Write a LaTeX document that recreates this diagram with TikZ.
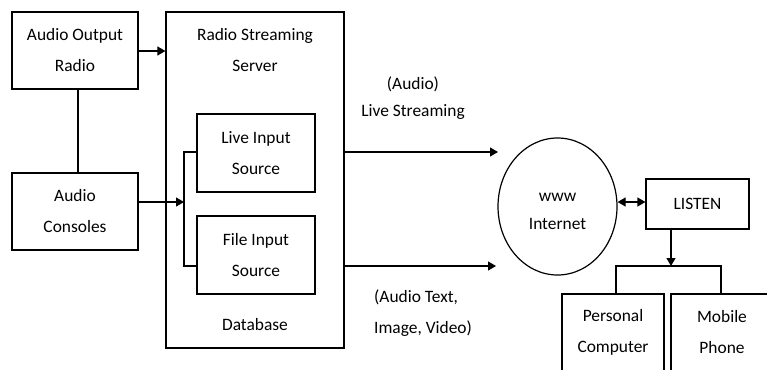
\documentclass[tikz,border=0pt]{standalone}
\usepackage{fontspec}
\setmainfont{Carlito}
\usetikzlibrary{arrows.meta,shapes.geometric}
\begin{document}
\begin{tikzpicture}[x=1pt,y=-1pt,
  every node/.style={font=\fontsize{17.4}{31}\selectfont, align=center},
  line/.style={line width=1.2pt},
  arr/.style={line width=1.2pt,-{Triangle[length=8pt,width=9pt]}},
  darr/.style={line width=1.2pt,{Triangle[length=8pt,width=9pt]}-{Triangle[length=8pt,width=9pt]}},
  boxn/.style={draw, line width=1.2pt, minimum width=126pt, minimum height=77pt, inner sep=0pt},
  inbox/.style={draw, line width=1.2pt, minimum width=118pt, minimum height=78pt, inner sep=0pt},
  devbox/.style={draw, line width=1.2pt, minimum width=102pt, minimum height=77pt, inner sep=0pt},
  txt/.style={inner sep=0pt}]
\useasboundingbox (0,0) rectangle (767,369);
% left boxes
\node[boxn] (aor) at (75,50.5) {Audio Output\\Radio};
\node[boxn] (cons) at (75,211.5) {Audio\\Consoles};
% server
\node[draw, line width=1.2pt, minimum width=178pt, minimum height=336pt, inner sep=0pt] (server) at (255,180) {};
\node[txt] (servt) at (255,50.5) {Radio Streaming\\Server};
\node[txt] (db) at (255,325) {Database};
\node[inbox] (live) at (256,153) {Live Input\\Source};
\node[inbox] (file) at (256,255) {File Input\\Source};
% bracket
\coordinate (btop) at (184,152);
\coordinate (bbot) at (184,266);
\coordinate (bmid) at (184,202);
\draw[line] (live.west |- btop) -- (btop) -- (bbot) -- (file.west |- bbot);
\draw[arr] (cons.east |- bmid) -- (bmid);
\draw[arr] (aor.east |- 0,51) -- (server.west |- 0,51);
\draw[line] (78,89) -- (78,173);
% internet
\node[draw, ellipse, line width=1.2pt, minimum width=119pt, minimum height=137pt, inner sep=0pt] (inet) at (557.5,206.5) {};
\node[txt, font=\fontsize{17.4}{28}\selectfont] (inett) at (557.5,211) {www\\Internet};
\coordinate (t1) at (498,152);
\coordinate (t2) at (496,266);
\draw[arr] (server.east |- t1) -- (t1);
\draw[arr] (server.east |- t2) -- (t2);
\node[txt, font=\fontsize{17.4}{27}\selectfont] (lst) at (413,98.5) {(Audio)\\Live Streaming};
\node[txt, align=left, anchor=west] (att) at (374,313.5) {(Audio Text,\\Image, Video)};
% listen
\node[draw, line width=1.2pt, minimum width=103pt, minimum height=50pt, inner sep=0pt] (listen) at (697.5,204) {LISTEN};
\draw[darr] (inet.east |- 0,202) -- (listen.west |- 0,202);
% devices
\node[devbox] (pc) at (613,332.5) {Personal\\Computer};
\node[devbox] (mob) at (722,332.5) {Mobile\\Phone};
\coordinate (jn) at (671,266);
\draw[arr] (listen.south -| jn) -- (jn);
\draw[line] (616,294) -- (616,266) -- (721,266) -- (721,294);
\end{tikzpicture}
\end{document}
